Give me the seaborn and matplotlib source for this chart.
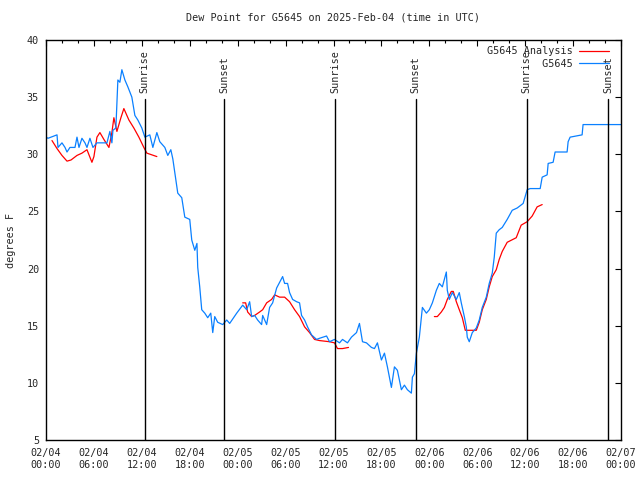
import matplotlib
matplotlib.use("Agg")
import matplotlib.pyplot as plt
import matplotlib.dates as mdates
from matplotlib.lines import Line2D
import numpy as np
import pandas as pd
import seaborn as sns

# hours since 2025-02-04 00:00 UTC
obs_hours = [0.0, 0.25, 1.38, 1.5, 2.0, 2.38, 2.63, 3.0, 3.63, 3.88, 4.13, 4.5, 4.88, 5.13, 5.5, 5.88, 6.38,
             7.63, 8.0, 8.25, 8.38, 8.75, 8.88, 9.0, 9.25, 9.5, 9.88, 10.25, 10.75, 11.13, 11.5, 12.0,
             12.38, 13.0, 13.38, 13.88, 14.25, 14.88, 15.25, 15.63, 15.88, 16.13, 16.5, 17.0, 17.38,
             18.0, 18.25, 18.63, 18.9, 19.0, 19.25, 19.5, 19.88, 20.25, 20.63, 20.88, 21.13, 21.5,
             22.13, 22.63, 23.0, 23.88, 24.63, 25.13, 25.5, 25.75, 26.13, 26.5, 27.0, 27.13, 27.63,
             28.0, 28.38, 28.88, 29.25, 29.63, 29.88, 30.25, 30.5, 30.88, 31.38, 31.75, 32.0, 32.38,
             32.75, 33.25, 33.88, 34.25, 35.13, 35.5, 36.13, 36.75, 37.13, 37.75, 38.25, 38.88, 39.25,
             39.63, 40.13, 40.75, 41.13, 41.5, 42.0, 42.38, 42.75, 43.25, 43.63, 44.0, 44.5, 44.88,
             45.25, 45.75, 45.88, 46.13, 46.38, 46.75, 47.13, 47.63, 48.0, 48.38, 48.88, 49.25, 49.63,
             50.13, 50.25, 50.5, 50.88, 51.38, 51.75, 52.0, 52.38, 52.63, 52.75, 53.0, 53.38, 53.88,
             54.25, 54.63, 55.13, 55.5, 55.88, 56.13, 56.38, 56.75, 57.13, 57.75, 58.38, 59.0, 59.75,
             60.25, 60.63, 61.88, 62.13, 62.75, 62.88, 63.5, 63.75, 65.25, 65.38, 65.63, 67.13, 67.25,
             72.0]
obs_dewpt = [31.5, 31.4, 31.7, 30.6, 31.0, 30.6, 30.2, 30.6, 30.6, 31.5, 30.6, 31.4, 31.0, 30.6, 31.4, 30.6, 31.0,
             31.0, 32.0, 31.0, 32.1, 32.3, 34.6, 36.5, 36.3, 37.4, 36.5, 35.9, 35.0, 33.4, 33.0, 32.3,
             31.5, 31.7, 30.6, 31.9, 31.1, 30.6, 29.9, 30.4, 29.6, 28.4, 26.6, 26.2, 24.5,
             24.3, 22.5, 21.6, 22.2, 20.1, 18.4, 16.4, 16.1, 15.7, 16.1, 14.4, 15.8, 15.3,
             15.1, 15.5, 15.2, 16.1, 16.8, 16.4, 17.1, 15.8, 15.9, 15.5, 15.1, 15.9, 15.1,
             16.6, 17.0, 18.3, 18.8, 19.3, 18.7, 18.7, 17.9, 17.3, 17.1, 17.0, 15.9, 15.5,
             14.9, 14.2, 13.8, 13.9, 14.1, 13.6, 13.8, 13.5, 13.8, 13.5, 14.0, 14.4, 15.2,
             13.6, 13.5, 13.1, 13.0, 13.5, 12.0, 12.6, 11.4, 9.6, 11.4, 11.1, 9.4, 9.8,
             9.4, 9.1, 10.5, 10.8, 12.6, 14.0, 16.6, 16.1, 16.4, 17.0, 18.1, 18.7, 18.4,
             19.7, 18.1, 17.3, 17.9, 17.3, 17.9, 17.0, 15.8, 14.9, 14.0, 13.6, 14.4, 14.8,
             15.5, 16.6, 17.5, 18.7, 19.6, 21.0, 23.1, 23.4, 23.6, 24.3, 25.1, 25.3, 25.7,
             26.9, 27.0, 27.0, 28.0, 28.2, 29.2, 29.3, 30.2, 30.2, 31.1, 31.5, 31.7, 32.6,
             32.6]

ana_hours = [0.75, 1.38, 2.0, 2.63, 3.13, 3.88, 4.5, 5.13, 5.75, 6.0, 6.38, 6.75, 7.25, 7.88, 8.25, 8.5,
             8.88, 9.13, 9.38, 9.75, 10.38, 11.0, 11.63, 12.25, 12.63, 13.88,
             24.63, 25.0, 25.25, 25.75, 26.13, 26.75, 27.13, 27.63, 28.25, 28.63, 29.25, 29.88, 30.5,
             31.13, 31.75, 32.38, 33.0, 33.63, 34.25, 35.5, 36.13, 36.5, 37.13, 37.88,
             48.63, 49.0, 49.5, 49.88, 50.25, 50.75, 51.0, 51.38, 51.75, 52.13, 52.5, 53.88, 54.25,
             54.63, 55.13, 55.5, 55.88, 56.38, 56.75, 57.13, 57.75, 58.88, 59.5, 60.25, 60.88, 61.5,
             62.13]
ana_dewpt = [31.2, 30.5, 29.9, 29.4, 29.5, 29.9, 30.1, 30.4, 29.3, 29.8, 31.5, 31.9, 31.3, 30.6, 31.9, 33.2,
             32.0, 32.6, 33.2, 34.0, 33.0, 32.3, 31.5, 30.6, 30.1, 29.8,
             17.0, 17.0, 16.2, 15.8, 15.9, 16.2, 16.4, 17.0, 17.3, 17.7, 17.5, 17.5, 17.1,
             16.4, 15.8, 14.9, 14.4, 13.8, 13.7, 13.6, 13.5, 13.0, 13.0, 13.1,
             15.8, 15.8, 16.2, 16.6, 17.3, 18.0, 18.0, 17.1, 16.4, 15.7, 14.6, 14.6, 15.3,
             16.4, 17.3, 18.4, 19.3, 19.9, 20.8, 21.5, 22.3, 22.7, 23.8, 24.1, 24.6, 25.4,
             25.6]
ana_run = [1] * 26 + [2] * 24 + [3] * 27

sun_hours = [12.35, 22.3, 36.2, 46.3, 60.2, 70.4]
sun_labels = ["Sunrise", "Sunset", "Sunrise", "Sunset", "Sunrise", "Sunset"]

RED = "#ff0000"
BLUE = "#0a80ff"

t0 = pd.Timestamp("2025-02-04 00:00")
obs = pd.DataFrame({"time": t0 + pd.to_timedelta(obs_hours, unit="h"), "dewpt": obs_dewpt})
ana = pd.DataFrame({"time": t0 + pd.to_timedelta(ana_hours, unit="h"), "dewpt": ana_dewpt, "run": ana_run})

sns.set_style("white")
plt.rcParams["font.family"] = ["DejaVu Sans Mono"]
plt.rcParams["font.size"] = 7.3

fig = plt.figure(figsize=(6.4, 4.8), dpi=100)
ax = fig.add_axes([46 / 640, 40 / 480, 575 / 640, 400 / 480])

sns.lineplot(data=ana, x="time", y="dewpt", units="run", estimator=None, color=RED,
             linewidth=0.9, ax=ax, legend=False)
sns.lineplot(data=obs, x="time", y="dewpt", color=BLUE, linewidth=0.9, ax=ax, legend=False)

for h, lab in zip(sun_hours, sun_labels):
    t = t0 + pd.Timedelta(hours=h)
    ax.plot([t, t], [5, 34.8], color="black", linewidth=1.0)
    ax.text(t, 35.4, lab, rotation=90, ha="center", va="bottom", fontsize=7.3)

ax.set_xlim(t0, t0 + pd.Timedelta(hours=72))
ax.set_ylim(5, 40)
ax.set_yticks(np.arange(5, 41, 5))
ax.xaxis.set_major_locator(mdates.HourLocator(byhour=[0, 6, 12, 18]))
ax.xaxis.set_minor_locator(mdates.HourLocator(interval=2))
ax.xaxis.set_major_formatter(mdates.DateFormatter("%m/%d\n%H:%M"))

ax.tick_params(which="both", direction="in", top=True, right=True, color="black")
ax.tick_params(which="major", length=4.5, width=0.8)
ax.tick_params(which="minor", length=2.5, width=0.8)
ax.tick_params(axis="x", which="major", pad=6, labelsize=7.3)
ax.tick_params(axis="y", pad=5, labelsize=7.3)
for s in ax.spines.values():
    s.set_color("black")
    s.set_linewidth(1.0)

ax.set_title("Dew Point for G5645 on 2025-Feb-04 (time in UTC)", fontsize=7.3, pad=14)
ax.set_xlabel("")
ax.set_ylabel("degrees F", fontsize=7.3, labelpad=8)

handles = [Line2D([], [], color=RED, linewidth=0.9), Line2D([], [], color=BLUE, linewidth=0.9)]
ax.legend(handles, ["G5645 Analysis", "         G5645"], loc="upper right",
          bbox_to_anchor=(0.99, 1.0), frameon=False, markerfirst=False, handlelength=3.0,
          borderaxespad=0.2, labelspacing=0.25, handletextpad=0.6, fontsize=7.3)

plt.savefig("out.png", dpi=100)
